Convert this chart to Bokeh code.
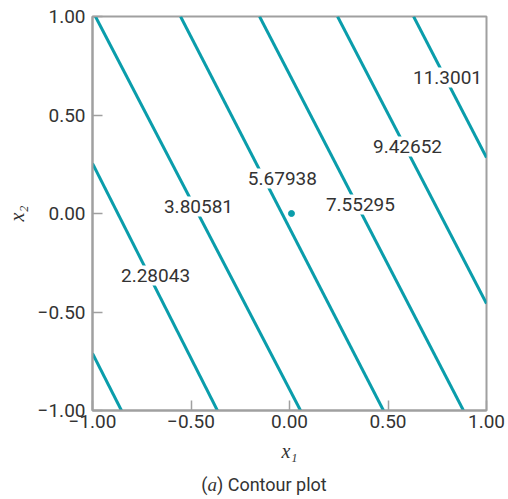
from bokeh.plotting import figure
from bokeh.models import FixedTicker, Range1d, ColumnDataSource, Div
from bokeh.core.properties import value
from bokeh.layouts import column
from bokeh.embed import file_html
from bokeh.resources import INLINE

# contour line end points (x1, x2)
line_x1_start = [-1.0, -1.0, -0.985, -0.553, -0.152, 0.244, 0.63]
line_x2_start = [-0.71, 0.254, 1.0, 1.0, 1.0, 1.0, 1.0]
line_x1_end = [-0.853, -0.366, 0.056, 0.477, 0.883, 1.0, 1.0]
line_x2_end = [-1.0, -1.0, -1.0, -1.0, -1.0, -0.457, 0.284]

# contour labels
contour_labels = ["2.28043", "3.80581", "5.67938", "7.55295", "9.42652", "11.3001"]
label_x1 = [-0.68, -0.462, -0.036, 0.36, 0.599, 0.802]
label_x2 = [-0.315, 0.036, 0.178, 0.046, 0.34, 0.69]

# centre point
center_x1 = [0.01]
center_x2 = [0.0]

tick_values = [-1.0, -0.5, 0.0, 0.5, 1.0]
tick_labels = ["\u22121.00", "\u22120.50", "0.00", "0.50", "1.00"]

TEAL = "#0a9dab"
TEXT = "#333333"
FRAME = "#a0a0a0"
FONT = "Roboto"
SERIF = "Liberation Serif"

p = figure(frame_width=394, frame_height=394,
           x_range=Range1d(-1, 1), y_range=Range1d(-1, 1),
           output_backend="svg", toolbar_location=None,
           min_border_left=92, min_border_top=16, min_border_right=22,
           min_border_bottom=60)
p.grid.visible = False
p.outline_line_color = FRAME
p.outline_line_width = 2
p.background_fill_color = "white"

for ax in (p.xaxis[0], p.yaxis[0]):
    ax.ticker = FixedTicker(ticks=tick_values)
    ax.major_label_overrides = dict(zip(tick_values, tick_labels))
    ax.minor_tick_line_color = None
    ax.major_tick_in = 10
    ax.major_tick_out = 0
    ax.major_tick_line_color = FRAME
    ax.major_tick_line_width = 1.5
    ax.axis_line_color = FRAME
    ax.axis_line_width = 2
    ax.major_label_text_font = FONT
    ax.major_label_text_font_size = "19px"
    ax.major_label_text_color = TEXT
    ax.axis_label_text_font = SERIF
    ax.axis_label_text_font_style = "italic"
    ax.axis_label_text_font_size = "20px"
    ax.axis_label_text_color = TEXT

p.xaxis.axis_label = "x\u2081"
p.yaxis.axis_label = "x\u2082"
p.xaxis.major_label_standoff = 4
p.yaxis.major_label_standoff = 7
p.xaxis.axis_label_standoff = 9
p.yaxis.axis_label_standoff = 7

src = ColumnDataSource(dict(x0=line_x1_start, y0=line_x2_start,
                            x1=line_x1_end, y1=line_x2_end))
p.segment("x0", "y0", "x1", "y1", source=src, line_color=TEAL, line_width=3)

p.scatter(center_x1, center_x2, size=6, color=TEAL)

lab = ColumnDataSource(dict(x=label_x1, y=label_x2, t=contour_labels))
p.rect("x", "y", width=74, height=20, width_units="screen", height_units="screen",
       source=lab, fill_color="white", line_color=None)
p.text("x", "y", text="t", source=lab, text_align="center", text_baseline="middle",
       text_font=value(FONT), text_font_size="19px", text_color=TEXT)

caption = Div(width=508, height=29, text=(
    '<div style="width:508px;text-align:center;padding-left:10px;box-sizing:border-box;'
    'font-family:Roboto;font-size:18px;line-height:20px;color:#333333;white-space:nowrap;">'
    '(<i style="font-family:\'Liberation Serif\';font-size:19px;">a</i>) Contour plot</div>'))

layout = column(p, caption, spacing=0)

open("out.html", "w").write(file_html(layout, INLINE))
